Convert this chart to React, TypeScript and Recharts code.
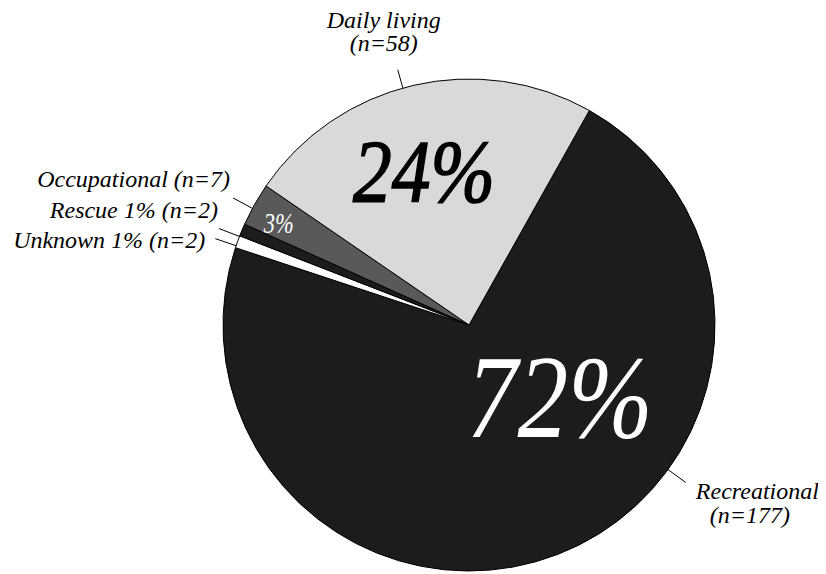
import { PieChart, Pie, Cell } from 'recharts';

const categories = ['Recreational', 'Unknown', 'Rescue', 'Occupational', 'Daily living'];
const counts = [177, 2, 2, 7, 58];
const percentLabels = ['72%', '', '', '3%', '24%'];
const outerLabels = [
  ['Recreational', '(n=177)'],
  ['Unknown 1% (n=2)'],
  ['Rescue 1% (n=2)'],
  ['Occupational (n=7)'],
  ['Daily living', '(n=58)'],
];
const colors = ['#1c1c1c', '#ffffff', '#1c1c1c', '#595959', '#d9d9d9'];

const data = categories.map((name, i) => ({ name, value: counts[i] }));

const RAD = Math.PI / 180;
const FONT = 'Liberation Serif, Tinos, serif';

// label placement: leader line angle, text offsets from the line end, inner % label angle/radius
const layout: any[] = [
  { lineAngle: -36, lineOut: 268, anchor: 'start', lines: [[10, 16.5], [24, 40.5]], inAngle: -38.5, inR: 116, inSize: 118, inLen: 186, inColor: '#fff', inStroke: 0 },
  { lineAngle: 161.2, lineOut: 268, anchor: 'end', lines: [[-10, 9.5]] },
  { lineAngle: 158.9, lineOut: 268, anchor: 'end', lines: [[-1, -10.5]] },
  { lineAngle: 151.7, lineOut: 268, anchor: 'end', lines: [[-3, -11]], inAngle: 151.8, inR: 216, inSize: 29, inLen: 30, inColor: '#fff', inStroke: 0 },
  { lineAngle: 105.6, lineOut: 265, anchor: 'middle', lines: [[-14, -42], [-14, -19]], inAngle: 106.3, inR: 160, inSize: 88, inLen: 142, inColor: '#000', inStroke: 1.6 },
];

const polar = (cx: number, cy: number, r: number, angle: number) => ({
  x: cx + r * Math.cos(-angle * RAD),
  y: cy + r * Math.sin(-angle * RAD),
});

const renderLabel = (props: any) => {
  const { cx, cy, outerRadius, index } = props;
  const cfg = layout[index];
  const p1 = polar(cx, cy, outerRadius, cfg.lineAngle);
  const p2 = polar(cx, cy, cfg.lineOut, cfg.lineAngle);
  const inner = cfg.inAngle !== undefined ? polar(cx, cy, cfg.inR, cfg.inAngle) : null;
  return (
    <g fontFamily={FONT} fontStyle="italic">
      <line x1={p1.x} y1={p1.y} x2={p2.x} y2={p2.y} stroke="#000" strokeWidth={1} />
      {outerLabels[index].map((t, k) => (
        <text
          key={k}
          x={p2.x + cfg.lines[k][0]}
          y={p2.y + cfg.lines[k][1]}
          textAnchor={cfg.anchor}
          fontFamily={FONT}
          fontStyle="italic"
          fontSize={24}
          fill="#000"
        >
          {t}
        </text>
      ))}
      {inner && percentLabels[index] && (
        <text
          x={inner.x}
          y={inner.y}
          textAnchor="middle"
          dominantBaseline="central"
          fontFamily={FONT}
          fontStyle="italic"
          fontSize={cfg.inSize}
          textLength={cfg.inLen}
          lengthAdjust="spacingAndGlyphs"
          fill={cfg.inColor}
          stroke={cfg.inStroke ? cfg.inColor : 'none'}
          strokeWidth={cfg.inStroke}
        >
          {percentLabels[index]}
        </text>
      )}
    </g>
  );
};

export default function App() {
  return (
    <div style={{ width: 818, height: 566, background: '#fff', position: 'relative', fontFamily: FONT, fontStyle: 'italic' }}>
      <PieChart width={818} height={566} margin={{ top: 0, right: 0, bottom: 0, left: 0 }} style={{ fontFamily: FONT }}>
        <Pie
          data={data}
          dataKey="value"
          nameKey="name"
          cx={461}
          cy={317}
          outerRadius={246}
          startAngle={60.7}
          endAngle={-299.3}
          stroke="#000"
          strokeWidth={1}
          label={renderLabel}
          labelLine={false}
          isAnimationActive={false}
        >
          {data.map((d, i) => (
            <Cell key={d.name} fill={colors[i]} />
          ))}
        </Pie>
      </PieChart>
    </div>
  );
}
